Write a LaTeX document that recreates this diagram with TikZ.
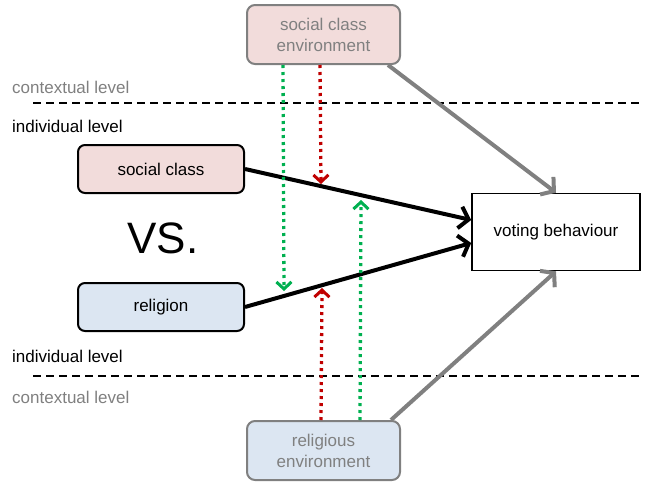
\documentclass[tikz,border=0pt]{standalone}
\usepackage{fontspec}
\setmainfont{Liberation Sans}
\usetikzlibrary{arrows.meta,calc}
\definecolor{pinkf}{HTML}{F2DCDB}
\definecolor{bluef}{HTML}{DCE6F2}
\definecolor{grayc}{HTML}{808080}
\definecolor{greenc}{HTML}{00B050}
\definecolor{redc}{HTML}{C00000}
\begin{document}
\begin{tikzpicture}[x=1pt,y=-1pt,
  every node/.style={font=\fontsize{17}{21}\selectfont},
  ctxbox/.style={draw=grayc, line width=2pt, rounded corners=8pt, minimum width=153pt, minimum height=59pt, align=center, text=grayc, inner sep=0pt},
  indbox/.style={draw=black, line width=2pt, rounded corners=7pt, minimum width=166pt, minimum height=48pt, inner sep=0pt},
  vbox/.style={draw=black, line width=1.6pt, fill=white, minimum width=168pt, minimum height=77pt, inner sep=0pt},
  lvl/.style={anchor=west, inner sep=0pt},
  sep/.style={line width=1.5pt, dash pattern=on 8pt off 5pt},
  garrow/.style={draw=grayc, line width=4pt, -{Straight Barb[length=9pt,width=22pt,line width=4pt]}},
  barrow/.style={draw=black, line width=4pt, -{Straight Barb[length=9pt,width=22pt,line width=4pt]}},
  dotarrow/.style={line width=3.3pt, dash pattern=on 3pt off 4pt, -{Straight Barb[length=7pt,width=15pt,line width=3pt]}}
]
\useasboundingbox (0,0) rectangle (649,485);
% level labels and separators
\node[lvl, text=grayc] (ctx1) at (12,87) {contextual level};
\node[lvl] (ind1) at (12,126) {individual level};
\node[lvl] (ind2) at (12,356) {individual level};
\node[lvl, text=grayc] (ctx2) at (12,397) {contextual level};
\coordinate (s1a) at (33,103); \coordinate (s1b) at (643,103);
\coordinate (s2a) at (33,376); \coordinate (s2b) at (643,376);
\draw[sep] (s1a) -- (s1b);
\draw[sep] (s2a) -- (s2b);
% boxes
\node[ctxbox, fill=pinkf] (sce) at (323.5,34.5) {social class\\environment};
\node[ctxbox, fill=bluef] (re) at (323.5,450.5) {religious\\environment};
\node[indbox, fill=pinkf] (sc) at (161,169) {social class};
\node[indbox, fill=bluef] (rel) at (161,307) {religion};
\node[vbox] (vb) at (556,232) {voting behaviour};
\node[inner sep=0pt, font=\fontsize{44}{48}\selectfont] (vs) at (163,238) {VS.};
% main arrows
\draw[garrow] ($(sce.south east)+(-13,0)$) -- (vb.north);
\draw[garrow] ($(re.north east)+(-10,0)$) -- (vb.south);
\draw[barrow] (sc.east) -- ($(vb.west)+(0,-12)$);
\draw[barrow] (rel.east) -- ($(vb.west)+(0,11)$);
% dotted moderation arrows
\coordinate (gd) at (284,291);
\coordinate (rd) at (321,184);
\coordinate (ru) at (322,288);
\coordinate (gu) at (361,200);
\draw[dotarrow, greenc] ($(sce.south west)+(37,0)$) -- (gd);
\draw[dotarrow, redc] ($(sce.south west)+(74,0)$) -- (rd);
\draw[dotarrow, redc] ($(re.north west)+(75,0)$) -- (ru);
\draw[dotarrow, greenc] ($(re.north west)+(114,0)$) -- (gu);
\end{tikzpicture}
\end{document}
